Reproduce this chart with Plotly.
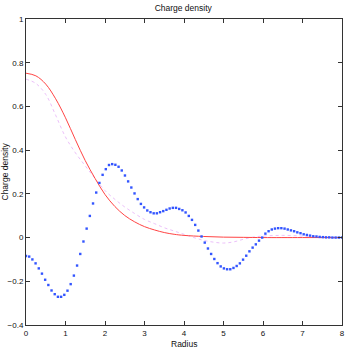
import numpy as np
import plotly.graph_objects as go

# Blue sampled charge density (100 samples on [0, 8])
blue_x = np.linspace(0, 8, 100)
blue_y = [
    -0.084, -0.087, -0.100, -0.118, -0.141, -0.165, -0.193, -0.217, -0.242, -0.259,
    -0.271, -0.271, -0.262, -0.243, -0.213, -0.174, -0.128, -0.075, -0.018, 0.041,
    0.099, 0.156, 0.206, 0.250, 0.287, 0.313, 0.332, 0.336, 0.333, 0.324,
    0.307, 0.284, 0.257, 0.229, 0.202, 0.176, 0.154, 0.138, 0.124, 0.116,
    0.111, 0.111, 0.116, 0.121, 0.127, 0.133, 0.136, 0.136, 0.131, 0.125,
    0.115, 0.099, 0.081, 0.058, 0.032, 0.005, -0.023, -0.050, -0.075, -0.098,
    -0.117, -0.132, -0.141, -0.145, -0.145, -0.139, -0.130, -0.118, -0.101, -0.083,
    -0.063, -0.046, -0.031, -0.014, 0.000, 0.018, 0.029, 0.037, 0.041, 0.043,
    0.043, 0.041, 0.037, 0.033, 0.029, 0.024, 0.020, 0.015, 0.012, 0.009,
    0.006, 0.005, 0.003, 0.002, 0.001, 0.001, 0.000, 0.000, 0.000, 0.000,
]

# Red smooth curve
red_x = [0, 0.25, 0.5, 0.75, 1.0, 1.25, 1.5, 1.75, 2.0, 2.25, 2.5, 2.75, 3.0,
         3.25, 3.5, 3.75, 4.0, 4.5, 5.0, 5.5, 6.0, 7.0, 8.0]
red_y = [0.752, 0.740, 0.702, 0.635, 0.548, 0.448, 0.352, 0.270, 0.197, 0.142,
         0.101, 0.072, 0.050, 0.035, 0.023, 0.015, 0.010, 0.005, 0.002, 0.001,
         0.0, 0.0, 0.0]

# Pink dotted curve
pink_x = [0, 0.25, 0.5, 0.75, 1.0, 1.25, 1.5, 1.75, 2.0, 2.25, 2.5, 2.75, 3.0,
          3.25, 3.5, 3.75, 4.0, 4.25, 4.5, 4.75, 5.0, 5.25, 5.5, 5.75, 6.0,
          6.25, 6.5, 6.75, 7.0, 7.25, 7.5, 7.75, 8.0]
pink_y = [0.725, 0.705, 0.655, 0.560, 0.460, 0.388, 0.328, 0.270, 0.215, 0.175,
          0.140, 0.110, 0.083, 0.064, 0.045, 0.030, 0.015, 0.000, -0.013, -0.021,
          -0.025, -0.020, -0.008, 0.002, 0.007, 0.009, 0.010, 0.009, 0.007, 0.005,
          0.003, 0.001, 0.0]

x_ticks = [0, 1, 2, 3, 4, 5, 6, 7, 8]
y_ticks = [-0.4, -0.2, 0, 0.2, 0.4, 0.6, 0.8, 1]
y_ticklabels = ["\u22120.4", "\u22120.2", "0", "0.2", "0.4", "0.6", "0.8", "1"]

fig = go.Figure()
fig.add_trace(go.Scatter(x=pink_x, y=pink_y, mode="lines", line_shape="spline",
                         line=dict(color="#ecc0fa", width=1, dash="dot")))
fig.add_trace(go.Scatter(x=red_x, y=red_y, mode="lines", line_shape="spline",
                         line=dict(color="#ff4444", width=1)))
fig.add_trace(go.Scatter(x=blue_x, y=blue_y, mode="markers",
                         marker=dict(color="#3355ff", size=2.4, symbol="square",
                                     line=dict(width=0))))

fam = "Liberation Sans, Arial, sans-serif"
font = dict(family=fam, size=9, color="#111111")
fig.update_layout(
    width=349, height=349,
    margin=dict(l=26, r=7, t=19, b=24, autoexpand=False),
    paper_bgcolor="white", plot_bgcolor="white",
    showlegend=False,
    font=font,
    title=dict(text="Charge density", x=0.525, xanchor="center", y=0.985,
               yanchor="top", font=dict(family=fam, size=8.5)),
    annotations=[
        dict(text="Radius", xref="paper", yref="paper", x=0.5, y=-0.038,
             xanchor="center", yanchor="top", showarrow=False,
             font=dict(family=fam, size=8.5)),
        dict(text="Charge density", xref="paper", yref="paper", x=-0.068, y=0.5,
             xanchor="center", yanchor="middle", textangle=-90, showarrow=False,
             font=dict(family=fam, size=8.5)),
    ],
)
fig.update_xaxes(range=[0, 8], tickvals=x_ticks, ticks="inside", ticklen=4,
                 showgrid=False, zeroline=False, showline=True, linecolor="#333333",
                 linewidth=1, mirror="ticks", tickcolor="#333333", automargin=False,
                 tickfont=dict(family=fam, size=8))
fig.update_yaxes(range=[-0.4, 1], tickvals=y_ticks, ticktext=y_ticklabels,
                 ticks="inside", ticklen=4,
                 showgrid=False, zeroline=False, showline=True, linecolor="#333333",
                 linewidth=1, mirror="ticks", tickcolor="#333333", automargin=False,
                 tickfont=dict(family=fam, size=8))

fig.write_html("out.html", config={"displayModeBar": False},
               post_script="document.body.style.margin='0';document.body.style.overflow='hidden';")
